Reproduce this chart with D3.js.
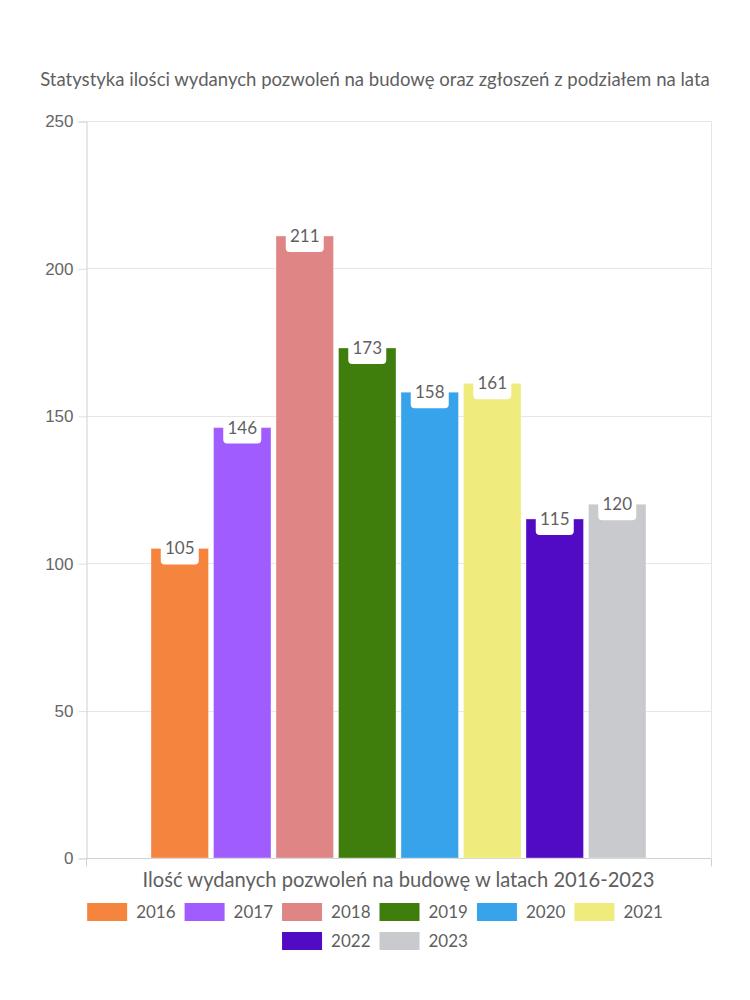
<!DOCTYPE html>
<html><head><meta charset="utf-8">
<script src="https://cdn.jsdelivr.net/npm/d3@7"></script>
<style>body{margin:0;background:#fff}svg{display:block}</style>
</head><body>
<svg id="c" width="750" height="1000"></svg>
<script>
const years = ["2016","2017","2018","2019","2020","2021","2022","2023"];
const values = [105, 146, 211, 173, 158, 161, 115, 120];
const colors = ["#F5843F","#A05CFF","#E08585","#3F7D0D","#37A3EB","#F0EB7D","#510BC4","#C9CACE"];
const yTicks = [0, 50, 100, 150, 200, 250];
const title = "Statystyka ilości wydanych pozwoleń na budowę oraz zgłoszeń z podziałem na lata";
const xTitle = "Ilość wydanych pozwoleń na budowę w latach 2016-2023";

const svg = d3.select("#c");
const W = 750;
const m = {left: 86, right: 39, top: 121, bottom: 142};
const plotW = W - m.left - m.right, plotH = 1000 - m.top - m.bottom;
const font = "Lato, 'Noto Sans', sans-serif";
const txtCol = "#5f5f5f";

const y = d3.scaleLinear().domain([0, 250]).range([m.top + plotH, m.top]);
const gp = 0.104 * plotW;
const x = d3.scaleBand().domain(years).range([m.left + gp, m.left + plotW - gp]).paddingInner(0.08).paddingOuter(0);

function fitText(sel, size, target) {
  sel.attr("font-size", size);
  const w = sel.node().getComputedTextLength();
  if (w > 0) sel.attr("font-size", size * target / w);
}

// title
const t = svg.append("text").attr("x", W/2).attr("y", 86).attr("text-anchor","middle")
  .attr("font-family", font).attr("fill", txtCol).text(title);
fitText(t, 15.5, 670);

// gridlines
svg.append("g").selectAll("line").data(yTicks).join("line")
  .attr("x1", m.left).attr("x2", m.left + plotW)
  .attr("y1", d => Math.round(y(d)) + 0.5).attr("y2", d => Math.round(y(d)) + 0.5)
  .attr("stroke", "#e6e6e6");
svg.append("line").attr("x1", m.left + plotW + 0.5).attr("x2", m.left + plotW + 0.5)
  .attr("y1", m.top).attr("y2", m.top + plotH).attr("stroke", "#e6e6e6");

// y axis
const yAxis = d3.axisLeft(y).tickValues(yTicks).tickSize(8).tickPadding(5);
const ga = svg.append("g").attr("transform", `translate(${m.left + 0.5},0.5)`).call(yAxis);
ga.select(".domain").attr("stroke", "#d0d0d0");
ga.selectAll(".tick line").attr("stroke", "#e0e0e0");
ga.selectAll(".tick text").attr("font-family", "'Liberation Sans', Arial, sans-serif").attr("font-size", 17).attr("fill", "#666");

// x axis baseline and end ticks
const baseY = Math.round(y(0)) + 0.5;
svg.append("line").attr("x1", m.left).attr("x2", m.left + plotW).attr("y1", baseY).attr("y2", baseY).attr("stroke", "#d0d0d0");
svg.append("g").selectAll("line").data([m.left, m.left + plotW]).join("line")
  .attr("x1", d => d + 0.5).attr("x2", d => d + 0.5).attr("y1", baseY).attr("y2", baseY + 8).attr("stroke", "#d0d0d0");

// bars
svg.append("g").selectAll("rect").data(values).join("rect")
  .attr("x", (d, i) => x(years[i])).attr("width", x.bandwidth())
  .attr("y", d => y(d)).attr("height", d => y(0) - y(d))
  .attr("fill", (d, i) => colors[i]).attr("stroke", "#fff").attr("stroke-opacity", 0.35).attr("stroke-width", 1);

// data labels
const lg = svg.append("g").selectAll("g").data(values).join("g")
  .attr("transform", (d, i) => `translate(${x(years[i]) + x.bandwidth()/2},${y(d)})`);
lg.append("rect").attr("x", -19).attr("y", -10).attr("width", 38).attr("height", 26).attr("rx", 4).attr("fill", "#fff");
lg.append("text").attr("text-anchor", "middle").attr("y", 6).attr("font-family", font)
  .attr("font-size", 17).attr("fill", txtCol).text(d => d);

// x axis title
const xt = svg.append("text").attr("x", m.left + plotW/2).attr("y", 887).attr("text-anchor", "middle")
  .attr("font-family", font).attr("fill", txtCol).text(xTitle);
fitText(xt, 18, 512);

// legend (flow layout, centered rows)
const sw = 40, sh = 18, gapT = 9, itemGap = 9, rowH = 29, maxW = 620;
const lgG = svg.append("g");
const items = years.map((yr, i) => {
  const g = lgG.append("g");
  g.append("rect").attr("width", sw).attr("height", sh).attr("fill", colors[i]);
  const tx = g.append("text").attr("x", sw + gapT).attr("y", sh/2 + 6).attr("font-family", font)
    .attr("font-size", 17).attr("fill", txtCol).text(yr);
  return {g, w: sw + gapT + tx.node().getComputedTextLength()};
});
const rows = []; let cur = [], curW = 0;
items.forEach(it => {
  const add = (cur.length ? itemGap : 0) + it.w;
  if (curW + add > maxW && cur.length) { rows.push({cur, curW}); cur = [it]; curW = it.w; }
  else { cur.push(it); curW += add; }
});
rows.push({cur, curW});
rows.forEach((r, ri) => {
  let xx = W/2 - r.curW/2;
  r.cur.forEach(it => { it.g.attr("transform", `translate(${xx},${903 + ri*rowH})`); xx += it.w + itemGap; });
});
</script>
</body></html>
